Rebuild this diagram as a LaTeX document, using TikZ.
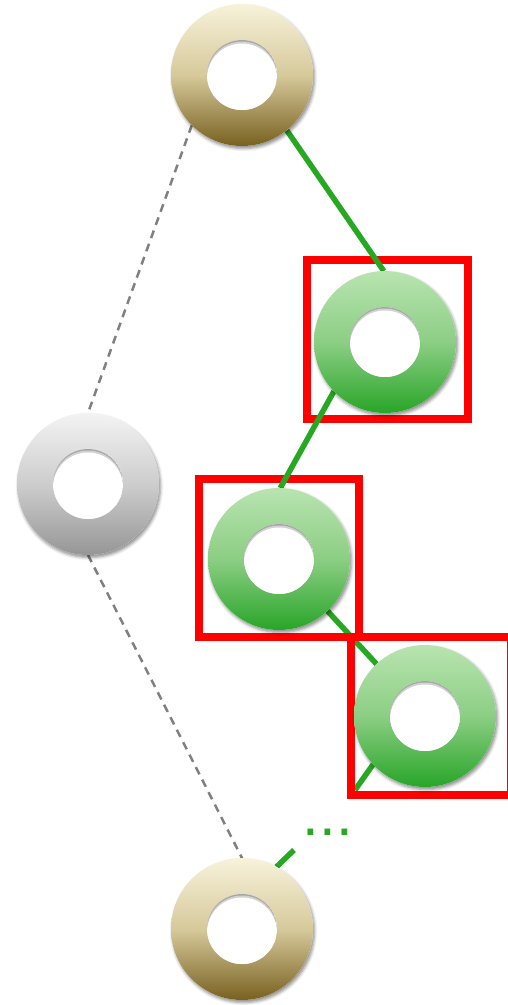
\documentclass[tikz,border=0pt]{standalone}
\usepackage{fontspec}
\newfontfamily\dotfont{Liberation Sans}
\usetikzlibrary{shadows.blur}
\definecolor{lgreen}{RGB}{38,168,34}
\definecolor{creamT}{RGB}{247,242,218}
\definecolor{creamM}{RGB}{214,201,155}
\definecolor{creamB}{RGB}{120,97,32}
\definecolor{greyT}{RGB}{243,243,243}
\definecolor{greyM}{RGB}{205,205,205}
\definecolor{greyB}{RGB}{150,150,150}
\definecolor{greenT}{RGB}{184,228,176}
\definecolor{greenM}{RGB}{140,206,132}
\definecolor{greenB}{RGB}{40,165,40}
\newcommand\ringdraw[4]{%
  \fill[white, blur shadow={shadow xshift=1.5pt, shadow yshift=-2.5pt, shadow blur radius=3pt, shadow opacity=45}] (#1.center) circle (71pt);
  \shade[even odd rule, top color=#2, bottom color=#4, middle color=#3] (#1.center) circle (71pt) (#1.center) circle (35pt);
  \begin{scope}
    \clip (#1.center) circle (35pt);
    \fill[black!35] (#1.center) circle (35pt);
    \fill[white, opacity=.5] ([yshift=-1.5pt]#1.center) circle (35pt);
    \fill[white] ([yshift=-3.5pt]#1.center) circle (35pt);
  \end{scope}
}
\begin{document}
\begin{tikzpicture}[x=1pt,y=-1pt,
  spot/.style={circle, minimum size=142pt, inner sep=0pt, outer sep=0pt},
  frame/.style={draw=red, line width=8pt, inner sep=0pt, outer sep=0pt},
  link/.style={draw=lgreen, line width=5.5pt},
  guide/.style={draw=black!50, line width=2.5pt, dash pattern=on 8pt off 6pt}]
\useasboundingbox (0,0) rectangle (508,1005);
% invisible ring anchors
\node[spot] (top) at (242,75) {};
\node[spot] (gray) at (88,484) {};
\node[spot] (g1) at (385,342) {};
\node[spot] (g2) at (279,559) {};
\node[spot] (g3) at (425,716) {};
\node[spot] (bot) at (242,929) {};
\coordinate (e1) at (355,790);
\coordinate (e2) at (294,850);
% dashed guides
\draw[guide] (top.-135) -- (gray.90);
\draw[guide] (gray.-90) -- (bot.90);
% links under frames
\draw[link] (g2.-47) -- (g3.133);
\draw[link] (g3.-137) -- (e1);
% frames
\node[frame, minimum width=161pt, minimum height=159pt] (b1) at (387.5,339.5) {};
\node[frame, minimum width=160pt, minimum height=158pt] (b2) at (279,558) {};
\node[frame, minimum width=160pt, minimum height=158pt] (b3) at (431,716) {};
% links over frames
\draw[link] (top.-51) -- (g1.91);
\draw[link] (g1.-136) -- (g2.89);
\draw[link] (bot.61) -- (e2);
% rings
\ringdraw{top}{creamT}{creamM}{creamB}
\ringdraw{bot}{creamT}{creamM}{creamB}
\ringdraw{gray}{greyT}{greyM}{greyB}
\ringdraw{g1}{greenT}{greenM}{greenB}
\ringdraw{g2}{greenT}{greenM}{greenB}
\ringdraw{g3}{greenT}{greenM}{greenB}
% dots
\node[anchor=base west, inner sep=0pt, text=lgreen, font=\dotfont\fontsize{60}{60}\selectfont] (dots) at (302.5,835) {...};
\end{tikzpicture}
\end{document}
